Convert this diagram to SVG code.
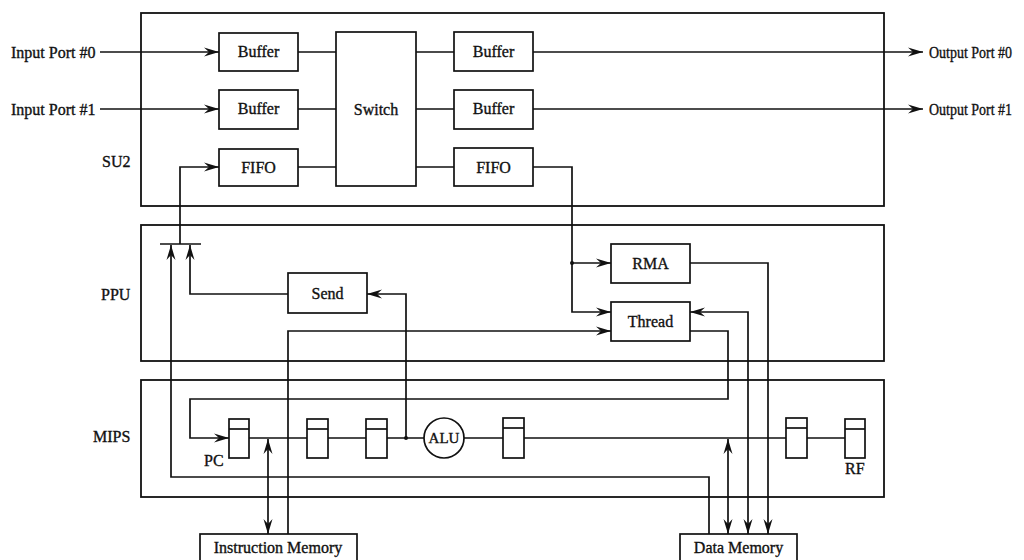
<svg xmlns="http://www.w3.org/2000/svg" width="1024" height="560" viewBox="0 0 1024 560">
<defs>
<marker id="ah" markerUnits="userSpaceOnUse" markerWidth="16" markerHeight="10" refX="15" refY="4.5" orient="auto-start-reverse" viewBox="0 0 16 9">
<path d="M0,0 L15,4.5 L0,9 L5,4.5 z" fill="#111"/>
</marker>
</defs>
<style>
text{font-family:"Liberation Serif","Times New Roman",serif;font-size:16px;fill:#111;stroke:#111;stroke-width:0.35}
.c{text-anchor:middle}
.box{fill:#fff;stroke:#111;stroke-width:1.7}
.frame{fill:none;stroke:#111;stroke-width:1.8}
.ln{fill:none;stroke:#111;stroke-width:1.7}
.ar{marker-end:url(#ah)}
.da{marker-start:url(#ah);marker-end:url(#ah)}
</style>
<rect width="1024" height="560" fill="#fff"/>
<g id="frames">
<rect id="su2-frame" class="frame" x="141" y="13" width="743" height="193"/>
<rect id="ppu-frame" class="frame" x="141" y="225" width="743" height="136"/>
<rect id="mips-frame" class="frame" x="141" y="380" width="743" height="117"/>
<text x="102" y="167">SU2</text>
<text x="101" y="300">PPU</text>
<text x="93" y="442">MIPS</text>
</g>
<g id="connectors">
<path class="ln ar" d="M100,52 H219"/>
<path class="ln ar" d="M100,109 H219"/>
<path class="ln" d="M298,52 H336 M298,109 H336 M298,167 H336"/>
<path class="ln" d="M416,52 H454 M416,109 H454 M416,167 H454"/>
<path class="ln ar" d="M533,52 H923"/>
<path class="ln ar" d="M533,109 H923"/>
<path class="ln ar" d="M533,167 H572 V312 H611"/>
<path class="ln ar" d="M572,263 H611"/>
<circle cx="572" cy="263" r="2" fill="#111"/>
<path class="ln" d="M160,244 H201"/>
<path class="ln ar" d="M180,244 V167 H219"/>
<path class="ln ar" d="M288,294 H190 V245"/>
<path class="ln ar" d="M709,534 V477 H171 V245"/>
<path class="ln ar" d="M406,438 V294 H367"/>
<circle cx="406" cy="438" r="2" fill="#111"/>
<path class="ln ar" d="M288,534 V331 H611"/>
<path class="ln ar" d="M690,263 H768 V534"/>
<path class="ln da" d="M690,312 H748 V534"/>
<path class="ln ar" d="M690,331 H728 V399 H190 V438 H229"/>
<path class="ln da" d="M268,439 V534"/>
<path class="ln da" d="M728,439 V534"/>
<path class="ln" d="M249,438 H307 M328,438 H366 M387,438 H424 M464,438 H503 M524,438 H786 M807,438 H845"/>
</g>
<g id="input-port-0"><text x="11" y="58">Input Port #0</text></g>
<g id="input-port-1"><text x="11" y="115">Input Port #1</text></g>
<g id="output-port-0"><text x="929" y="58" textLength="83" lengthAdjust="spacingAndGlyphs">Output Port #0</text></g>
<g id="output-port-1"><text x="929" y="115" textLength="83" lengthAdjust="spacingAndGlyphs">Output Port #1</text></g>
<g id="buffer-in-0"><rect class="box" x="219" y="33" width="79" height="38"/><text class="c" x="258.5" y="57">Buffer</text></g>
<g id="buffer-in-1"><rect class="box" x="219" y="90" width="79" height="39"/><text class="c" x="258.5" y="114">Buffer</text></g>
<g id="fifo-in"><rect class="box" x="219" y="149" width="79" height="37"/><text class="c" x="258.5" y="173">FIFO</text></g>
<g id="switch"><rect class="box" x="336" y="32" width="80" height="154"/><text class="c" x="376" y="115">Switch</text></g>
<g id="buffer-out-0"><rect class="box" x="454" y="32" width="79" height="39"/><text class="c" x="493.5" y="57">Buffer</text></g>
<g id="buffer-out-1"><rect class="box" x="454" y="90" width="79" height="39"/><text class="c" x="493.5" y="114">Buffer</text></g>
<g id="fifo-out"><rect class="box" x="454" y="148" width="79" height="38"/><text class="c" x="493.5" y="173">FIFO</text></g>
<g id="rma"><rect class="box" x="611" y="244" width="79" height="39"/><text class="c" x="650.5" y="269">RMA</text></g>
<g id="thread"><rect class="box" x="611" y="302" width="79" height="39"/><text class="c" x="650.5" y="327">Thread</text></g>
<g id="send"><rect class="box" x="288" y="273" width="79" height="40"/><text class="c" x="327.5" y="299">Send</text></g>
<g id="pc"><rect class="box" x="229" y="419" width="20" height="39"/><path class="ln" d="M229,429 H249"/><text x="204" y="466">PC</text></g>
<g id="reg-2"><rect class="box" x="307" y="419" width="21" height="39"/><path class="ln" d="M307,429 H328"/></g>
<g id="reg-3"><rect class="box" x="366" y="419" width="21" height="39"/><path class="ln" d="M366,429 H387"/></g>
<g id="alu"><circle class="box" cx="444" cy="438" r="20"/><text class="c" x="444" y="443" style="font-size:15px">ALU</text></g>
<g id="reg-4"><rect class="box" x="503" y="418" width="21" height="40"/><path class="ln" d="M503,428 H524"/></g>
<g id="reg-5"><rect class="box" x="786" y="418" width="21" height="40"/><path class="ln" d="M786,428 H807"/></g>
<g id="rf"><rect class="box" x="845" y="419" width="20" height="39"/><path class="ln" d="M845,429 H865"/><text x="845" y="474">RF</text></g>
<g id="instruction-memory"><rect class="box" x="200" y="534" width="157" height="40"/><text class="c" x="278" y="553">Instruction Memory</text></g>
<g id="data-memory"><rect class="box" x="680" y="534" width="117" height="40"/><text class="c" x="738.5" y="553">Data Memory</text></g>
</svg>
